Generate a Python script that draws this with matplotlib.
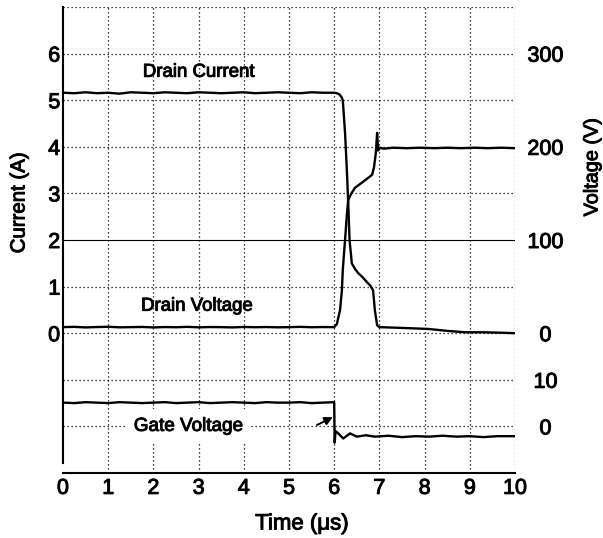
import matplotlib
matplotlib.use('Agg')
import matplotlib.pyplot as plt
import matplotlib.patheffects as pe

plt.rcParams['font.family'] = ['Liberation Sans', 'DejaVu Sans']

# ---------------- data ----------------
# Drain current (A)
ic_t = [0.0, 0.25, 0.5, 0.75, 1.0, 1.25, 1.5, 1.75, 2.0, 2.25, 2.5, 2.75, 3.0,
        3.25, 3.5, 3.75, 4.0, 4.25, 4.5, 4.75, 5.0, 5.25, 5.5, 5.75, 6.0,
        6.06, 6.12, 6.16, 6.19, 6.24, 6.28, 6.31, 6.34, 6.39, 6.46, 6.53, 6.63,
        6.73, 6.8, 6.86, 6.9, 6.95, 7.0, 7.3, 7.6, 8.1, 8.5, 8.9, 9.3, 9.7, 10.0]
ic_a = [5.16, 5.15, 5.17, 5.15, 5.16, 5.14, 5.17, 5.16, 5.15, 5.17, 5.16, 5.15, 5.17,
        5.16, 5.15, 5.16, 5.17, 5.15, 5.16, 5.17, 5.16, 5.15, 5.17, 5.16, 5.16,
        5.15, 5.12, 5.07, 5.0, 4.3, 3.5, 2.8, 2.0, 1.5, 1.38, 1.29, 1.2,
        1.09, 1.02, 0.92, 0.49, 0.17, 0.13, 0.12, 0.11, 0.09, 0.05, 0.02, 0.02, 0.01, 0.0]

# Drain voltage (V)
vd_t = [0.0, 0.25, 0.5, 0.75, 1.0, 1.25, 1.5, 1.75, 2.0, 2.25, 2.5, 2.75, 3.0,
        3.25, 3.5, 3.75, 4.0, 4.25, 4.5, 4.75, 5.0, 5.25, 5.5, 5.75, 6.0,
        6.06, 6.13, 6.17, 6.19, 6.24, 6.28, 6.31, 6.38, 6.46, 6.57, 6.68, 6.76,
        6.84, 6.88, 6.92, 6.95, 6.97, 7.01, 7.1, 7.3, 7.6, 7.9, 8.2, 8.5, 8.8,
        9.1, 9.4, 9.7, 10.0]
vd_v = [6.5, 6.8, 6.2, 6.6, 6.9, 6.3, 6.5, 6.7, 6.2, 6.6, 6.4, 6.8, 6.3,
        6.6, 6.5, 6.2, 6.7, 6.4, 6.6, 6.3, 6.5, 6.8, 6.4, 6.6, 6.5,
        10, 25, 46, 68, 100, 127, 143, 150, 156, 160, 164, 167,
        170, 178, 193, 215, 196, 199, 198, 199, 198.5, 199, 198.5, 199, 198.5,
        199, 198.5, 199, 198.5]

# Gate voltage (V)
vg_t = [0.0, 0.25, 0.5, 0.75, 1.0, 1.25, 1.5, 1.75, 2.0, 2.25, 2.5, 2.75, 3.0,
        3.25, 3.5, 3.75, 4.0, 4.25, 4.5, 4.75, 5.0, 5.25, 5.5, 5.75, 6.0,
        6.01, 6.03, 6.1, 6.2, 6.35, 6.5, 6.7, 6.9, 7.2, 7.5, 7.8, 8.1, 8.4,
        8.7, 9.0, 9.3, 9.6, 10.0]
vg_v = [5.1, 5.0, 5.2, 5.1, 5.0, 5.2, 5.1, 5.0, 5.1, 5.2, 5.0, 5.1, 5.2,
        5.0, 5.1, 5.2, 5.1, 5.0, 5.2, 5.1, 5.1, 5.2, 5.0, 5.1, 5.2,
        -3.5, -1.0, -1.6, -2.6, -1.5, -2.2, -1.9, -2.2, -2.0, -2.3, -2.1, -2.2, -2.0,
        -2.2, -2.1, -2.3, -2.1, -2.1]

x_ticks = [0, 1, 2, 3, 4, 5, 6, 7, 8, 9, 10]
current_ticks = [0, 1, 2, 3, 4, 5, 6]
drain_v_ticks = [0, 100, 200, 300]
gate_v_ticks = [10, 0]

# mapping of voltages into the shared vertical scale (current units)
DRAIN_V_PER_UNIT = 50.0
GATE_V_PER_UNIT = 10.0
GATE_ZERO = -2.0

def drain_pos(v):
    return [x / DRAIN_V_PER_UNIT for x in v]

def gate_pos(v):
    return [GATE_ZERO + x / GATE_V_PER_UNIT for x in v]

# slight stroke to mimic the heavy print of the original
heavy = [pe.withStroke(linewidth=0.7, foreground='black')]

# ---------------- figure ----------------
W, H = 603, 538
fig = plt.figure(figsize=(W / 100, H / 100), dpi=100)
ax = fig.add_axes([63 / W, 65 / H, (515 - 63) / W, (531 - 65) / H])
ax.set_xlim(0, 10)
ax.set_ylim(-3, 7)

grid_style = dict(color='black', lw=0.9, linestyle=(0, (1, 2.2)), zorder=1)
for xv in range(1, 11):
    ax.axvline(xv, **grid_style)
for yv in range(-2, 8):
    if yv == 2:
        ax.axhline(yv, color='black', lw=0.8, zorder=1)
    else:
        ax.axhline(yv, **grid_style)

lw = 1.7
ax.plot(ic_t, ic_a, color='black', lw=lw, zorder=4)
ax.plot(vd_t, drain_pos(vd_v), color='black', lw=lw, zorder=4)
ax.plot(vg_t, gate_pos(vg_v), color='black', lw=lw, zorder=4)

txt = dict(ha='center', va='center', color='black', path_effects=heavy)
ax.text(3.0, 5.6, 'Drain Current', fontsize=13.4, zorder=3, **txt)
ax.text(2.96, 0.58, 'Drain Voltage', fontsize=13.4, zorder=3, **txt)
ax.text(2.77, -2.0, 'Gate Voltage', fontsize=13.6, zorder=3,
        bbox=dict(boxstyle='square,pad=0.45', fc='white', ec='none'), **txt)

ax.annotate('', xy=(5.97, -1.80), xytext=(5.62, -1.97),
            arrowprops=dict(arrowstyle='-|>', color='black', lw=1.4,
                            mutation_scale=12, shrinkA=0, shrinkB=0), zorder=5)

for s in ['top', 'right']:
    ax.spines[s].set_visible(False)
ax.spines['left'].set_bounds(-2.78, 7)
ax.spines['left'].set_linewidth(1.5)
ax.spines['bottom'].set_linewidth(1.5)

ax.set_xticks(x_ticks)
ax.set_xticklabels([str(v) for v in x_ticks])
ax.set_yticks(current_ticks)
ax.set_yticklabels([str(v) for v in current_ticks])
ax.tick_params(axis='x', length=0, labelsize=15.5, pad=3.5)
ax.tick_params(axis='y', length=0, labelsize=15.5, pad=2)
for lbl in ax.get_xticklabels() + ax.get_yticklabels():
    lbl.set_path_effects(heavy)

ax2 = ax.twinx()
ax2.set_ylim(ax.get_ylim())
r_pos = [v / DRAIN_V_PER_UNIT for v in drain_v_ticks] + \
        [GATE_ZERO + v / GATE_V_PER_UNIT for v in gate_v_ticks]
r_lab = [str(v) for v in drain_v_ticks] + [str(v) for v in gate_v_ticks]
ax2.set_yticks(r_pos)
ax2.set_yticklabels(r_lab)
ax2.tick_params(axis='y', length=0, labelsize=15.5, pad=22)
for s in ax2.spines.values():
    s.set_visible(False)
for lbl in ax2.get_yticklabels():
    lbl.set_horizontalalignment('center')
    lbl.set_path_effects(heavy)

fig.text(19 / W, 1 - 203 / H, 'Current (A)', rotation=90, fontsize=14.7,
         ha='center', va='center', path_effects=heavy)
fig.text(592 / W, 1 - 167 / H, 'Voltage (V)', rotation=90, fontsize=14.3,
         ha='center', va='center', path_effects=heavy)
fig.text(302 / W, 1 - 524 / H, 'Time (μs)', fontsize=16,
         ha='center', va='center', path_effects=heavy)

fig.savefig('out.png', dpi=100)
